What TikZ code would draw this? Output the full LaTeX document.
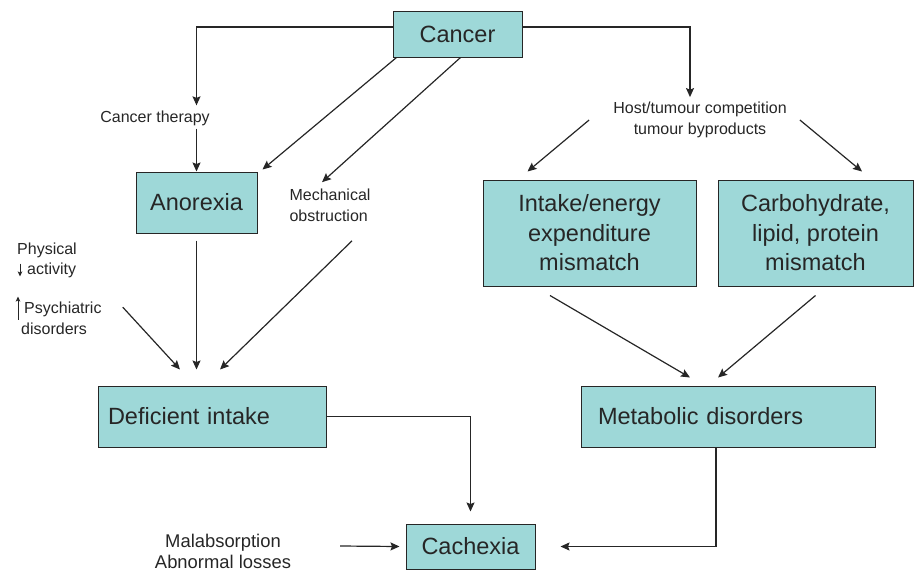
\documentclass[tikz,border=0pt]{standalone}
\usepackage{fontspec}
\setmainfont{Liberation Sans}
\usetikzlibrary{arrows.meta}

\definecolor{boxfill}{RGB}{158,216,216}
\definecolor{ink}{RGB}{38,38,38}

\tikzset{
  box/.style={draw=ink, line width=1pt, fill=boxfill, inner sep=0pt, text=ink,
    font=\fontsize{23.5}{29.5}\selectfont, align=center},
  lbl/.style={inner sep=0pt, text=ink, font=\fontsize{16}{20.5}\selectfont, align=center},
  arr/.style={draw=ink, line width=1.2pt, -{Stealth[length=9pt,width=8pt,inset=1.5pt]}},
  tiny/.style={draw=ink, line width=0.9pt, -{Stealth[length=5pt,width=4.5pt,inset=1pt]}},
}

\begin{document}
\begin{tikzpicture}[x=1pt,y=-1pt]

		\useasboundingbox (0,0) rectangle (915,571);

		% boxes
		\node[box, minimum width=129pt, minimum height=46pt] (cancer) at (457.5,34) {Cancer};
		\node[box, minimum width=121pt, minimum height=61pt] (anorexia) at (196.5,202.5) {Anorexia};
		\node[box, minimum width=213pt, minimum height=106pt] (intake) at (589.5,233) {Intake/energy\\expenditure\\mismatch};
		\node[box, minimum width=195pt, minimum height=106pt] (carbo) at (815.5,233) {Carbohydrate,\\lipid, protein\\mismatch};
		\node[box, minimum width=228pt, minimum height=61pt, text width=208pt, align=left] (deficient) at (212,416.5) {Deficient intake};
		\node[box, minimum width=294pt, minimum height=61pt, text width=260pt, align=left] (metabolic) at (728,416.5) {Metabolic disorders};
		\node[box, minimum width=129pt, minimum height=45pt] (cachexia) at (470.5,546.5) {Cachexia};

		% labels
		\node[lbl] (therapy) at (155,118) {Cancer therapy};
		\node[lbl] (host) at (700,120) {Host/tumour competition\\tumour byproducts};
		\node[lbl, align=left] (mech) at (330,205.5) {Mechanical\\obstruction};
		\node[lbl, font=\fontsize{18.4}{21}\selectfont] (malab) at (223,551.5) {Malabsorption\\Abnormal losses};
		\node[lbl, align=left, anchor=west] (physical) at (17,260.5) {Physical\\\hspace*{10pt}activity};
		\node[lbl, align=left, anchor=west] (psych) at (21,318.5) {\hspace*{3pt}Psychiatric\\disorders};

		\draw[tiny] ([xshift=3pt,yshift=-3pt]physical.west) -- ([xshift=3pt,yshift=-16pt]physical.west);
		\draw[tiny] ([xshift=-3pt,yshift=-1pt]psych.west) -- ([xshift=-3pt,yshift=22pt]psych.west);

		% connectors
		\draw[arr] ([yshift=7pt]cancer.west) -| ([yshift=5pt]anorexia.north |- therapy.north);
		\draw[arr] ([yshift=-3pt]anorexia.north |- therapy.south) -- (anorexia.north);
		\draw[arr] ([yshift=7pt]cancer.east) -| ([xshift=-10pt,yshift=5pt]host.north);
		\draw[arr] ([xshift=4pt]cancer.south west) -- ([xshift=5pt,yshift=2pt]anorexia.north east);
		\draw[arr] ([xshift=3pt]cancer.south) -- ([xshift=-8pt,yshift=7pt]mech.north);

		\draw[arr] ([xshift=-24pt,yshift=0pt]host.west) -- ([xshift=45pt,yshift=8pt]intake.north west);
		\draw[arr] ([xshift=13pt,yshift=0pt]host.east) -- ([xshift=46.5pt,yshift=8pt]carbo.north);

		\draw[arr] ([yshift=-7pt]anorexia.south) -- ([yshift=16pt]anorexia.south |- deficient.north);
		\draw[arr] ([xshift=21pt,yshift=-5pt]psych.north east) -- ([xshift=-32pt,yshift=16pt]deficient.north);
		\draw[arr] ([xshift=22pt,yshift=-19pt]mech.south) -- ([xshift=8pt,yshift=16pt]deficient.north);

		\draw[arr] ([xshift=-39.5pt,yshift=-9pt]intake.south) -- ([xshift=-38pt,yshift=8pt]metabolic.north);
		\draw[arr] ([yshift=-9pt]carbo.south) -- ([xshift=-10pt,yshift=8pt]metabolic.north);

		\draw[arr] (deficient.east) -| ([yshift=12pt]cachexia.north);
		\draw[arr] ([xshift=-12pt]metabolic.south) |- ([xshift=25pt]cachexia.east);
		\draw[arr] ([xshift=49pt,yshift=5.5pt]malab.east) -- ([xshift=-6pt]cachexia.west);

\end{tikzpicture}
\end{document}
